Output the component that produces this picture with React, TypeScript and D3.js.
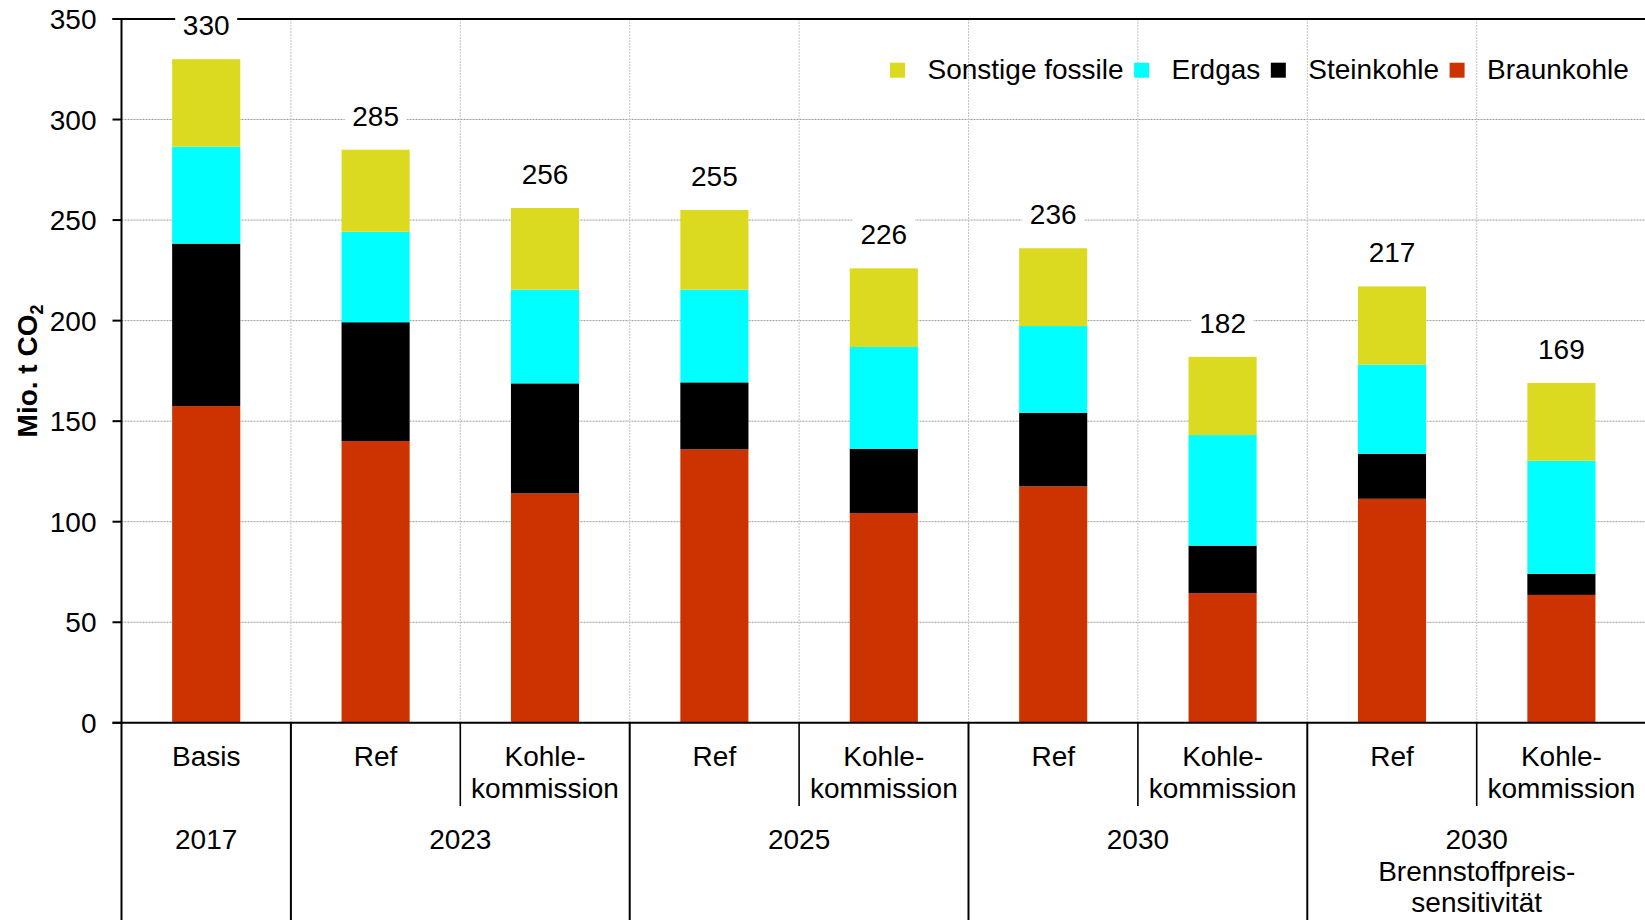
import React, { useEffect, useRef } from "react";
import * as d3 from "d3";

const categories = [
  "Basis",
  "Ref",
  "Kohle-\nkommission",
  "Ref",
  "Kohle-\nkommission",
  "Ref",
  "Kohle-\nkommission",
  "Ref",
  "Kohle-\nkommission",
];
const groupLabels = ["2017", "2023", "2025", "2030", "2030\nBrennstoffpreis-\nsensitivität"];
const groupSizes = [1, 2, 2, 2, 2];

const braunkohle = [157.5, 140.1, 114.1, 136.0, 104.3, 117.6, 64.5, 111.4, 63.6];
const steinkohle = [80.8, 59.1, 54.7, 33.3, 32.0, 36.6, 23.6, 22.4, 10.5];
const erdgas = [48.2, 45.0, 46.6, 46.1, 50.6, 43.1, 55.0, 44.3, 56.2];
const sonstige = [43.5, 40.8, 40.6, 39.6, 39.1, 38.7, 38.9, 38.9, 38.7];
const totals = [330, 285, 256, 255, 226, 236, 182, 217, 169];

const seriesNames = ["Braunkohle", "Steinkohle", "Erdgas", "Sonstige fossile"];
const seriesColors = ["#CC3300", "#000000", "#00FFFF", "#DCDA20"];
const legendOrder = ["Sonstige fossile", "Erdgas", "Steinkohle", "Braunkohle"];
const yTicks = [0, 50, 100, 150, 200, 250, 300, 350];

const W = 1645;
const H = 920;
const FONT = "'Liberation Sans', Arial, Helvetica, sans-serif";

export default function App() {
  const ref = useRef<SVGSVGElement | null>(null);

  useEffect(() => {
    const svg = d3.select(ref.current);
    svg.selectAll("*").remove();

    const left = 121.5;
    const band = 169.4;
    const right = left + band * categories.length;
    const top = 19;
    const bottom = 722.8;

    const idx = categories.map((_, i) => String(i));
    const x = d3.scaleBand<string>().domain(idx).range([left, right]).padding(0);
    const y = d3.scaleLinear().domain([0, 350]).range([bottom, top]);
    const bw = x.bandwidth();
    const barW = bw * 0.402;

    const rows = categories.map((c, i) => ({
      i: String(i),
      Braunkohle: braunkohle[i],
      Steinkohle: steinkohle[i],
      Erdgas: erdgas[i],
      "Sonstige fossile": sonstige[i],
    }));
    const stack = d3.stack<any>().keys(seriesNames)(rows);
    const color = d3.scaleOrdinal<string, string>().domain(seriesNames).range(seriesColors);

    const g = svg.append("g").attr("font-family", FONT);

    // horizontal grid
    g.append("g")
      .selectAll("line")
      .data(yTicks.filter((t) => t > 0 && t < 350))
      .join("line")
      .attr("x1", left)
      .attr("x2", W)
      .attr("y1", (d) => y(d))
      .attr("y2", (d) => y(d))
      .attr("stroke", "#9a9a9a")
      .attr("stroke-width", 1)
      .attr("stroke-dasharray", "2,1");

    // vertical grid at category boundaries
    g.append("g")
      .selectAll("line")
      .data(idx.slice(1))
      .join("line")
      .attr("x1", (d) => x(d)!)
      .attr("x2", (d) => x(d)!)
      .attr("y1", top)
      .attr("y2", bottom)
      .attr("stroke", "#c4c4c4")
      .attr("stroke-width", 1)
      .attr("stroke-dasharray", "2,1");

    // bars
    g.append("g")
      .selectAll("g")
      .data(stack)
      .join("g")
      .attr("fill", (d) => color(d.key))
      .selectAll("rect")
      .data((d) => d)
      .join("rect")
      .attr("x", (d: any) => x(d.data.i)! + (bw - barW) / 2)
      .attr("width", barW)
      .attr("y", (d) => y(d[1]))
      .attr("height", (d) => y(d[0]) - y(d[1]));

    // top frame line
    g.append("line")
      .attr("x1", left - 9)
      .attr("x2", W)
      .attr("y1", top)
      .attr("y2", top)
      .attr("stroke", "#000")
      .attr("stroke-width", 2);

    // value labels with white background
    const lab = g.append("g").selectAll("g").data(totals).join("g");
    lab
      .append("rect")
      .attr("x", (d, i) => x(String(i))! + bw / 2 - 31)
      .attr("y", (d, i) => y(d3.sum([braunkohle[i], steinkohle[i], erdgas[i], sonstige[i]])) - 24 - 28)
      .attr("width", 62)
      .attr("height", 34)
      .attr("fill", "#fff");
    lab
      .append("text")
      .attr("x", (d, i) => x(String(i))! + bw / 2)
      .attr("y", (d, i) => y(d3.sum([braunkohle[i], steinkohle[i], erdgas[i], sonstige[i]])) - 24)
      .attr("text-anchor", "middle")
      .attr("font-size", 28)
      .attr("fill", "#000")
      .text((d) => String(d));

    // y axis
    g.append("line")
      .attr("x1", left)
      .attr("x2", left)
      .attr("y1", top)
      .attr("y2", H)
      .attr("stroke", "#000")
      .attr("stroke-width", 2);
    g.append("g")
      .selectAll("line")
      .data(yTicks)
      .join("line")
      .attr("x1", left - 9)
      .attr("x2", left)
      .attr("y1", (d) => y(d))
      .attr("y2", (d) => y(d))
      .attr("stroke", "#000")
      .attr("stroke-width", 2);
    g.append("g")
      .selectAll("text")
      .data(yTicks)
      .join("text")
      .attr("x", 96.5)
      .attr("y", (d) => y(d) + 10)
      .attr("text-anchor", "end")
      .attr("font-size", 28)
      .attr("fill", "#000")
      .text((d) => String(d));

    // y title
    const yt = g
      .append("text")
      .attr("transform", `translate(37,371) rotate(-90)`)
      .attr("text-anchor", "middle")
      .attr("font-size", 28)
      .attr("font-weight", "bold")
      .attr("fill", "#000");
    yt.append("tspan").text("Mio. t CO");
    yt.append("tspan").attr("font-size", 18).attr("dy", 6).text("2");

    // x axis baseline
    g.append("line")
      .attr("x1", left - 9)
      .attr("x2", W)
      .attr("y1", bottom)
      .attr("y2", bottom)
      .attr("stroke", "#000")
      .attr("stroke-width", 2);

    // separators below axis
    let acc = 0;
    const groupStarts: number[] = [];
    groupSizes.forEach((n) => {
      groupStarts.push(acc);
      acc += n;
    });
    const longIdx = groupStarts.filter((s) => s > 0);
    const shortIdx = idx.map(Number).filter((i) => i > 0 && !groupStarts.includes(i));
    g.append("g")
      .selectAll("line")
      .data(longIdx)
      .join("line")
      .attr("x1", (d) => x(String(d))!)
      .attr("x2", (d) => x(String(d))!)
      .attr("y1", bottom)
      .attr("y2", H)
      .attr("stroke", "#000")
      .attr("stroke-width", 2);
    g.append("g")
      .selectAll("line")
      .data(shortIdx)
      .join("line")
      .attr("x1", (d) => x(String(d))!)
      .attr("x2", (d) => x(String(d))!)
      .attr("y1", bottom)
      .attr("y2", 806)
      .attr("stroke", "#000")
      .attr("stroke-width", 1.6);

    // category labels
    const cl = g
      .append("g")
      .selectAll("text")
      .data(categories)
      .join("text")
      .attr("text-anchor", "middle")
      .attr("font-size", 28)
      .attr("fill", "#000");
    cl.each(function (d, i) {
      const t = d3.select(this);
      d.split("\n").forEach((line, k) => {
        t.append("tspan")
          .attr("x", x(String(i))! + bw / 2)
          .attr("y", 765.7 + k * 32)
          .text(line);
      });
    });

    // group labels
    const gl = g
      .append("g")
      .selectAll("text")
      .data(groupLabels)
      .join("text")
      .attr("text-anchor", "middle")
      .attr("font-size", 28)
      .attr("fill", "#000");
    gl.each(function (d, gi) {
      const s = groupStarts[gi];
      const e = s + groupSizes[gi];
      const cx = (x(String(s))! + x(String(e - 1))! + bw) / 2;
      const t = d3.select(this);
      d.split("\n").forEach((line, k) => {
        t.append("tspan").attr("x", cx).attr("y", 849 + k * 31.7).text(line);
      });
    });

    // legend
    const leg = g.append("g");
    let lx = 890;
    legendOrder.forEach((name) => {
      leg
        .append("rect")
        .attr("x", lx)
        .attr("y", 62.7)
        .attr("width", 15)
        .attr("height", 15)
        .attr("fill", color(name));
      const tx = leg
        .append("text")
        .attr("x", lx + 37.5)
        .attr("y", 79.3)
        .attr("font-size", 28)
        .attr("fill", "#000")
        .text(name);
      const w = (tx.node() as SVGTextElement).getComputedTextLength();
      lx = lx + 37.5 + w + 10.5;
    });
  }, []);

  return (
    <svg
      ref={ref}
      width={W}
      height={H}
      style={{ position: "absolute", left: 0, top: 0, display: "block", background: "#fff" }}
    />
  );
}
